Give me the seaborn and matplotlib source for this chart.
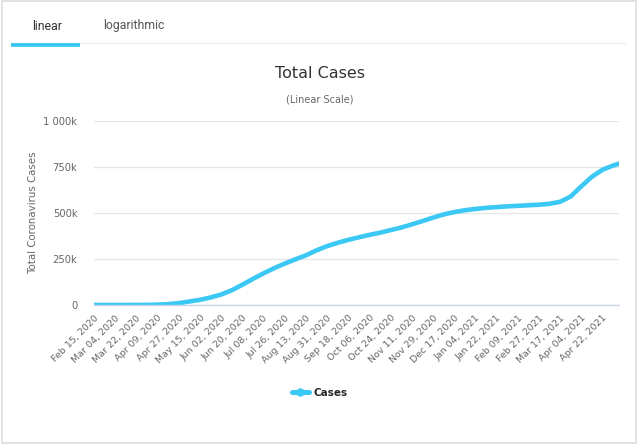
import pandas as pd
import seaborn as sns
import matplotlib.pyplot as plt
import matplotlib.dates as mdates
import matplotlib.ticker as ticker
from matplotlib.lines import Line2D
from matplotlib.patches import Rectangle

# data (every 9 days from Feb 15, 2020, plus the last day)
days = [0, 9, 18, 27, 36, 45, 54, 63, 72, 81, 90, 99, 108, 117, 126, 135, 144,
        153, 162, 171, 180, 189, 198, 207, 216, 225, 234, 243, 252, 261, 270,
        279, 288, 297, 306, 315, 324, 333, 342, 351, 360, 369, 378, 387, 396,
        405, 414, 423, 432, 441, 446]
cases = [0, 0, 0, 0, 300, 800, 2000, 4500, 10000, 19000, 28000, 41000, 57000,
         80000, 110000, 142000, 172000, 200000, 225000, 248000, 270000, 297000,
         320000, 338000, 354000, 368000, 381000, 393000, 407000, 421000, 438000,
         456000, 475000, 492000, 505000, 515000, 522000, 528000, 532000, 536000,
         539000, 542000, 545000, 550000, 561000, 590000, 645000, 697000, 735000,
         758000, 768000]
start = pd.Timestamp("2020-02-15")
tick_dates = pd.date_range(start, periods=25, freq="18D")
y_ticks = [0, 250000, 500000, 750000, 1000000]
y_labels = ["0", "250k", "500k", "750k", "1 000k"]

df = pd.DataFrame({"Date": start + pd.to_timedelta(days, unit="D"), "Cases": cases})

sns.set_style("white")
plt.rcParams['font.family'] = ['DejaVu Sans']

fig = plt.figure(figsize=(6.4, 4.46), dpi=100)

# outer frame
fig.patches.append(Rectangle((0.003, 0.006), 0.991, 0.992, transform=fig.transFigure,
                             fill=False, edgecolor="#dddddd", lw=1.2))
# tabs
fig.text(47 / 640, 1 - 26 / 446, "linear", family="Roboto", fontsize=8.8,
         color="#333333", ha="center", va="center")
fig.text(134 / 640, 1 - 26 / 446, "logarithmic", family="Roboto", fontsize=8.8,
         color="#555555", ha="center", va="center")
fig.add_artist(Line2D([11 / 640, 625 / 640], [1 - 43 / 446] * 2, color="#eeeeee", lw=1))
fig.add_artist(Line2D([11 / 640, 80 / 640], [1 - 44.5 / 446] * 2, color="#33c5f3", lw=2.6,
                      solid_capstyle="butt"))

fig.text(0.5, 1 - 73 / 446, "Total Cases", fontsize=11.5, color="#333333",
         ha="center", va="center")
fig.text(0.5, 1 - 100 / 446, "(Linear Scale)", fontsize=7, color="#666666",
         ha="center", va="center")

ax = fig.add_axes([94 / 640, 1 - 305 / 446, 525 / 640, 184 / 446])
sns.lineplot(data=df, x="Date", y="Cases", ax=ax, color="#3cc8f4", lw=3.3,
             solid_capstyle="round", legend=False)

ax.set_xlim(start, start + pd.Timedelta(days=446))
ax.set_ylim(0, 1000000)
ax.set_yticks(y_ticks)
ax.set_yticklabels(y_labels)
ax.set_xticks(tick_dates)
ax.set_xticklabels([d.strftime("%b %d, %Y") for d in tick_dates], rotation=45,
                   ha="right", rotation_mode="anchor")
ax.tick_params(axis="x", labelsize=6.8, colors="#666666", length=0, pad=6)
ax.tick_params(axis="y", labelsize=7.2, colors="#666666", length=0, pad=12)
ax.yaxis.grid(True, color="#e6e6e6", lw=0.9)
ax.xaxis.grid(False)
for s in ["top", "right", "left"]:
    ax.spines[s].set_visible(False)
ax.spines["bottom"].set_color("#ccd6eb")
ax.spines["bottom"].set_linewidth(1)
ax.set_xlabel("")
ax.set_ylabel("Total Coronavirus Cases", fontsize=7.4, color="#666666", labelpad=4)

handle = Line2D([], [], color="#3cc8f4", lw=3.6, marker="o", markersize=5)
fig.legend([handle], ["Cases"], loc="center", bbox_to_anchor=(0.5, 1 - 393 / 446),
           frameon=False, prop={"weight": "bold", "size": 7.5}, handlelength=1.6,
           handletextpad=0.5)

fig.savefig("out.png", dpi=100)
